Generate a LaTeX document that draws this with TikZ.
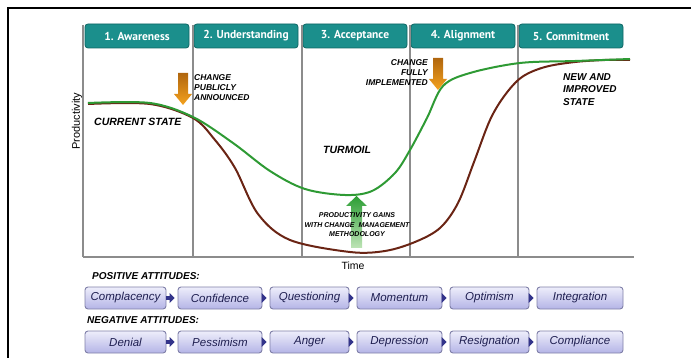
\documentclass[tikz,border=0pt]{standalone}
\usepackage{fontspec}
\setmainfont{Liberation Sans}
\newfontfamily\headfont{PT Sans}
\usetikzlibrary{arrows.meta,shadings}
\definecolor{tealtab}{HTML}{1B8F8C}
\definecolor{tealdark}{HTML}{0E6664}
\definecolor{gridgray}{HTML}{8C8C8C}
\definecolor{curvegreen}{HTML}{2E9A34}
\definecolor{curvebrown}{HTML}{6A2414}
\definecolor{boxtop}{HTML}{EEEEFB}
\definecolor{boxbot}{HTML}{B4B4E6}
\definecolor{boxedge}{HTML}{7F7FA8}
\definecolor{boxtext}{HTML}{1E1E50}
\definecolor{arrowblue}{HTML}{33348A}
\definecolor{orangetop}{HTML}{B0660E}
\definecolor{orangebot}{HTML}{F4A21E}
\definecolor{greentop}{HTML}{2C9E34}
\definecolor{greenbot}{HTML}{BEE4B6}
\tikzset{
  tab/.style={draw=tealdark, fill=tealtab, rounded corners=3pt, line width=0.8pt,
    minimum width=104pt, minimum height=24pt, inner sep=0pt,
    text=white, font=\headfont\bfseries\fontsize{11.5}{12}\selectfont},
  grid/.style={draw=gridgray, line width=1.3pt},
  note/.style={font=\bfseries\itshape\fontsize{8.5}{10}\selectfont, inner sep=0pt, align=left},
  attbox/.style={draw=boxedge, line width=0.9pt, rounded corners=3pt, top color=boxtop, bottom color=boxbot,
    minimum height=22pt, inner sep=0pt, text=boxtext, font=\itshape\fontsize{11.5}{12}\selectfont},
  flow/.style={draw=arrowblue, line width=4pt, -{Triangle[length=5pt,width=10pt]}, shorten >=3pt},
  heading/.style={font=\bfseries\itshape\fontsize{10}{12}\selectfont, inner sep=0pt, anchor=west},
}
\begin{document}
\begin{tikzpicture}[x=1pt,y=-1pt]
\useasboundingbox (0,0) rectangle (691,358);
% frame
\draw[black, line width=1.5pt] (8,358) -- (8,8) -- (691,8);
% tabs
\node[tab] (t1) at (137,36) {1. Awareness};
\node[tab] (t2) at (246,36) {2. Understanding};
\node[tab] (t3) at (355,36) {3. Acceptance};
\node[tab] (t4) at (463,36) {4. Alignment};
\node[tab] (t5) at (571,36) {5. Commitment};
% grid lines
\coordinate (g0t) at (83,25);  \coordinate (g0b) at (83,257);
\coordinate (g1t) at (193,25); \coordinate (g1b) at (193,257);
\coordinate (g2t) at (302,25); \coordinate (g2b) at (302,257);
\coordinate (g3t) at (410,25); \coordinate (g3b) at (410,257);
\coordinate (g4t) at (518,25); \coordinate (g4b) at (518,257);
\coordinate (axend) at (634,257);
\draw[grid] (g0t) -- (g0b);
\draw[grid] (g1t) -- (g1b);
\draw[grid] (g2t) -- (g2b);
\draw[grid] (g3t) -- (g3b);
\draw[grid] (g4t) -- (g4b);
\draw[grid, line width=2pt] (g0b) -- (axend);
% axis labels
\node[rotate=90, font=\fontsize{11}{12}\selectfont, inner sep=0pt] (ylab) at (77,121) {Productivity};
\node[font=\fontsize{10.5}{12}\selectfont, inner sep=0pt] (xlab) at (353,266) {Time};
% arrows (gradient)
\shade[top color=orangetop, bottom color=orangebot]
  (178,73) -- (188,73) -- (188,94) -- (192,94) -- (183,105) -- (174,94) -- (178,94) -- cycle;
\shade[top color=orangetop, bottom color=orangebot]
  (433,58) -- (443,58) -- (443,79) -- (447,79) -- (438,90) -- (429,79) -- (433,79) -- cycle;
% curves
\draw[curvebrown, line width=2pt] plot[smooth, tension=0.55] coordinates {
  (88,104) (150,104) (193,118) (215,140) (235,168) (258,214) (290,240) (350,252) (385,251) (415,242)
  (440,228) (458,203) (474,162) (490,120) (505,95) (522,77) (545,67) (575,62) (605,60) (630,60)};
\draw[curvegreen, line width=2pt] plot[smooth, tension=0.55] coordinates {
  (88,103) (150,103) (193,117) (233,143) (270,171) (305,189) (345,195) (372,191) (395,173)
  (410,150) (427,118) (443,86) (470,73) (520,63) (575,61) (630,59)};
% green up arrow
\shade[top color=greentop, bottom color=greenbot]
  (351,248) -- (362,248) -- (362,206) -- (367,206) -- (356.5,196) -- (346,206) -- (351,206) -- cycle;
% texts
\node[note, anchor=north west] (n1) at (194,74) {CHANGE\\PUBLICLY\\ANNOUNCED};
\node[note, anchor=north east, align=right] (n2) at (428,59) {CHANGE\\FULLY\\IMPLEMENTED};
\node[note, anchor=west, font=\bfseries\itshape\fontsize{10.5}{12}\selectfont] (cs) at (94,122) {CURRENT STATE};
\node[note, anchor=west, font=\bfseries\itshape\fontsize{10.5}{12}\selectfont] (tm) at (323,150) {TURMOIL};
\node[note, anchor=north west, font=\bfseries\itshape\fontsize{10}{12.5}\selectfont] (ns) at (563,73) {NEW AND\\IMPROVED\\STATE};
\node[note, align=center, font=\bfseries\itshape\fontsize{7}{9.5}\selectfont] (pg) at (357,225) {PRODUCTIVITY GAINS\\WITH CHANGE\ \ MANAGEMENT\\METHODOLOGY};
% attitudes
\node[heading] (ph) at (92,276) {POSITIVE ATTITUDES:};
\node[heading] (nh) at (87,320) {NEGATIVE ATTITUDES:};
\node[attbox, minimum width=81pt] (p1) at (125.5,298) {Complacency};
\node[attbox, minimum width=84pt] (p2) at (220,298) {Confidence};
\node[attbox, minimum width=79pt] (p3) at (309.5,298) {Questioning};
\node[attbox, minimum width=85pt] (p4) at (399.5,298) {Momentum};
\node[attbox, minimum width=79pt] (p5) at (489.5,298) {Optimism};
\node[attbox, minimum width=86pt] (p6) at (580,298) {Integration};
\node[attbox, minimum width=81pt] (q1) at (125.5,342) {Denial};
\node[attbox, minimum width=84pt] (q2) at (220,342) {Pessimism};
\node[attbox, minimum width=79pt] (q3) at (309.5,342) {Anger};
\node[attbox, minimum width=85pt] (q4) at (399.5,342) {Depression};
\node[attbox, minimum width=79pt] (q5) at (489.5,342) {Resignation};
\node[attbox, minimum width=86pt] (q6) at (580,342) {Compliance};
\foreach \a/\b in {p1/p2,p2/p3,p3/p4,p4/p5,p5/p6,q1/q2,q2/q3,q3/q4,q4/q5,q5/q6}
  \draw[flow] (\a.east) -- (\b.west);
\end{tikzpicture}
\end{document}
